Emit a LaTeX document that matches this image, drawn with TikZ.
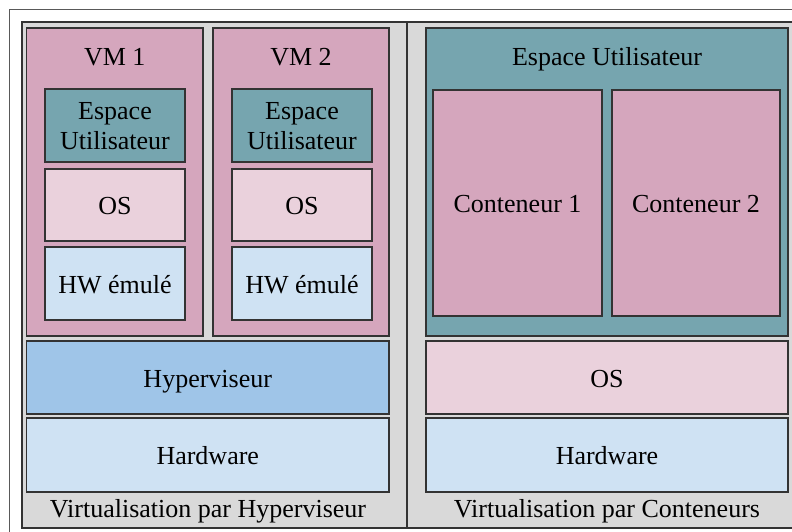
\documentclass[tikz,border=0pt]{standalone}
\usepackage{fontspec}
\setmainfont{Liberation Serif}
\definecolor{vmpink}{HTML}{D5A6BD}
\definecolor{userteal}{HTML}{76A5AF}
\definecolor{ospink}{HTML}{EAD1DC}
\definecolor{hwblue}{HTML}{CFE2F3}
\definecolor{hypblue}{HTML}{9FC5E8}
\definecolor{panelgray}{HTML}{D9D9D9}
\tikzset{
	layer/.style    = {draw=black!80, line width=1.1pt, rectangle, inner sep=0pt,
		outer sep=0pt, align=center},
	oneline/.style  = {layer, text height=19.5pt, text depth=0pt},
	vm/.style       = {layer, fill=vmpink, minimum width=176.5, minimum height=308},
	user/.style     = {layer, fill=userteal, minimum width=140, minimum height=73,
		text depth=-2.4pt},
	os/.style       = {oneline, fill=ospink},
	hw/.style       = {oneline, fill=hwblue},
	hyp/.style      = {oneline, fill=hypblue},
	panel/.style    = {layer, fill=panelgray, minimum height=506},
	caption/.style  = {inner sep=0pt, anchor=base} % Titles
}
\newcommand{\espace}{Espace\\Utilisateur}
\newcommand{\hwemu}{HW émulé}

\begin{document}
\begin{tikzpicture}[x=1pt, y=-1pt, font=\fontsize{26}{30}\selectfont]
		\useasboundingbox (0,0) rectangle (792,532);
		\begin{scope}
		\clip (0,0) rectangle (792,532);
		\draw[draw=black!65, line width=1pt, fill=white] (9.5,10) rectangle (820,560);
		\draw
		node at (214.5,275) [panel, minimum width=385] (pleft) {}
		node at (613,275) [panel, minimum width=412] (pright) {};
		\end{scope}
		
		% Hyperviseur
		\draw
		node at (114.75,182) [vm] (vm1) {}
		node at (301,182) [vm, minimum width=176] (vm2) {}
		node at (114.75,66) [caption] (t1) {VM 1}
		node at (301,66) [caption] (t2) {VM 2}
		node at (115,125.5) [user] (u1) {\espace}
		node at (302,125.5) [user] (u2) {\espace}
		node at (115,205) [os, minimum width=140, minimum height=72] (o1) {OS}
		node at (302,205) [os, minimum width=140, minimum height=72] (o2) {OS}
		node at (115,283.5) [hw, minimum width=140, minimum height=73] (h1) {\hwemu}
		node at (302,283.5) [hw, minimum width=140, minimum height=73] (h2) {\hwemu}
		node at (207.75,377.5) [hyp, minimum width=362.5, minimum height=73] (hyp) {Hyperviseur}
		node at (207.75,455) [hw, minimum width=362.5, minimum height=74] (hwl) {Hardware}
		node at (208,517.5) [caption] (capl) {Virtualisation par Hyperviseur};
		
		% Conteneurs
		\draw
		node at (607,182) [layer, fill=userteal, minimum width=362, minimum height=308] (ubig) {}
		node at (607,66) [caption] (tu) {Espace Utilisateur}
		node at (517.5,203) [oneline, fill=vmpink, minimum width=169, minimum height=226] (c1) {Conteneur 1}
		node at (696,203) [oneline, fill=vmpink, minimum width=168, minimum height=226] (c2) {Conteneur 2}
		node at (607,377.5) [os, minimum width=362, minimum height=73] (osr) {OS}
		node at (607,455) [hw, minimum width=362, minimum height=74] (hwr) {Hardware}
		node at (607,517.5) [caption] (capr) {Virtualisation par Conteneurs};
		
	\end{tikzpicture}
\end{document}
